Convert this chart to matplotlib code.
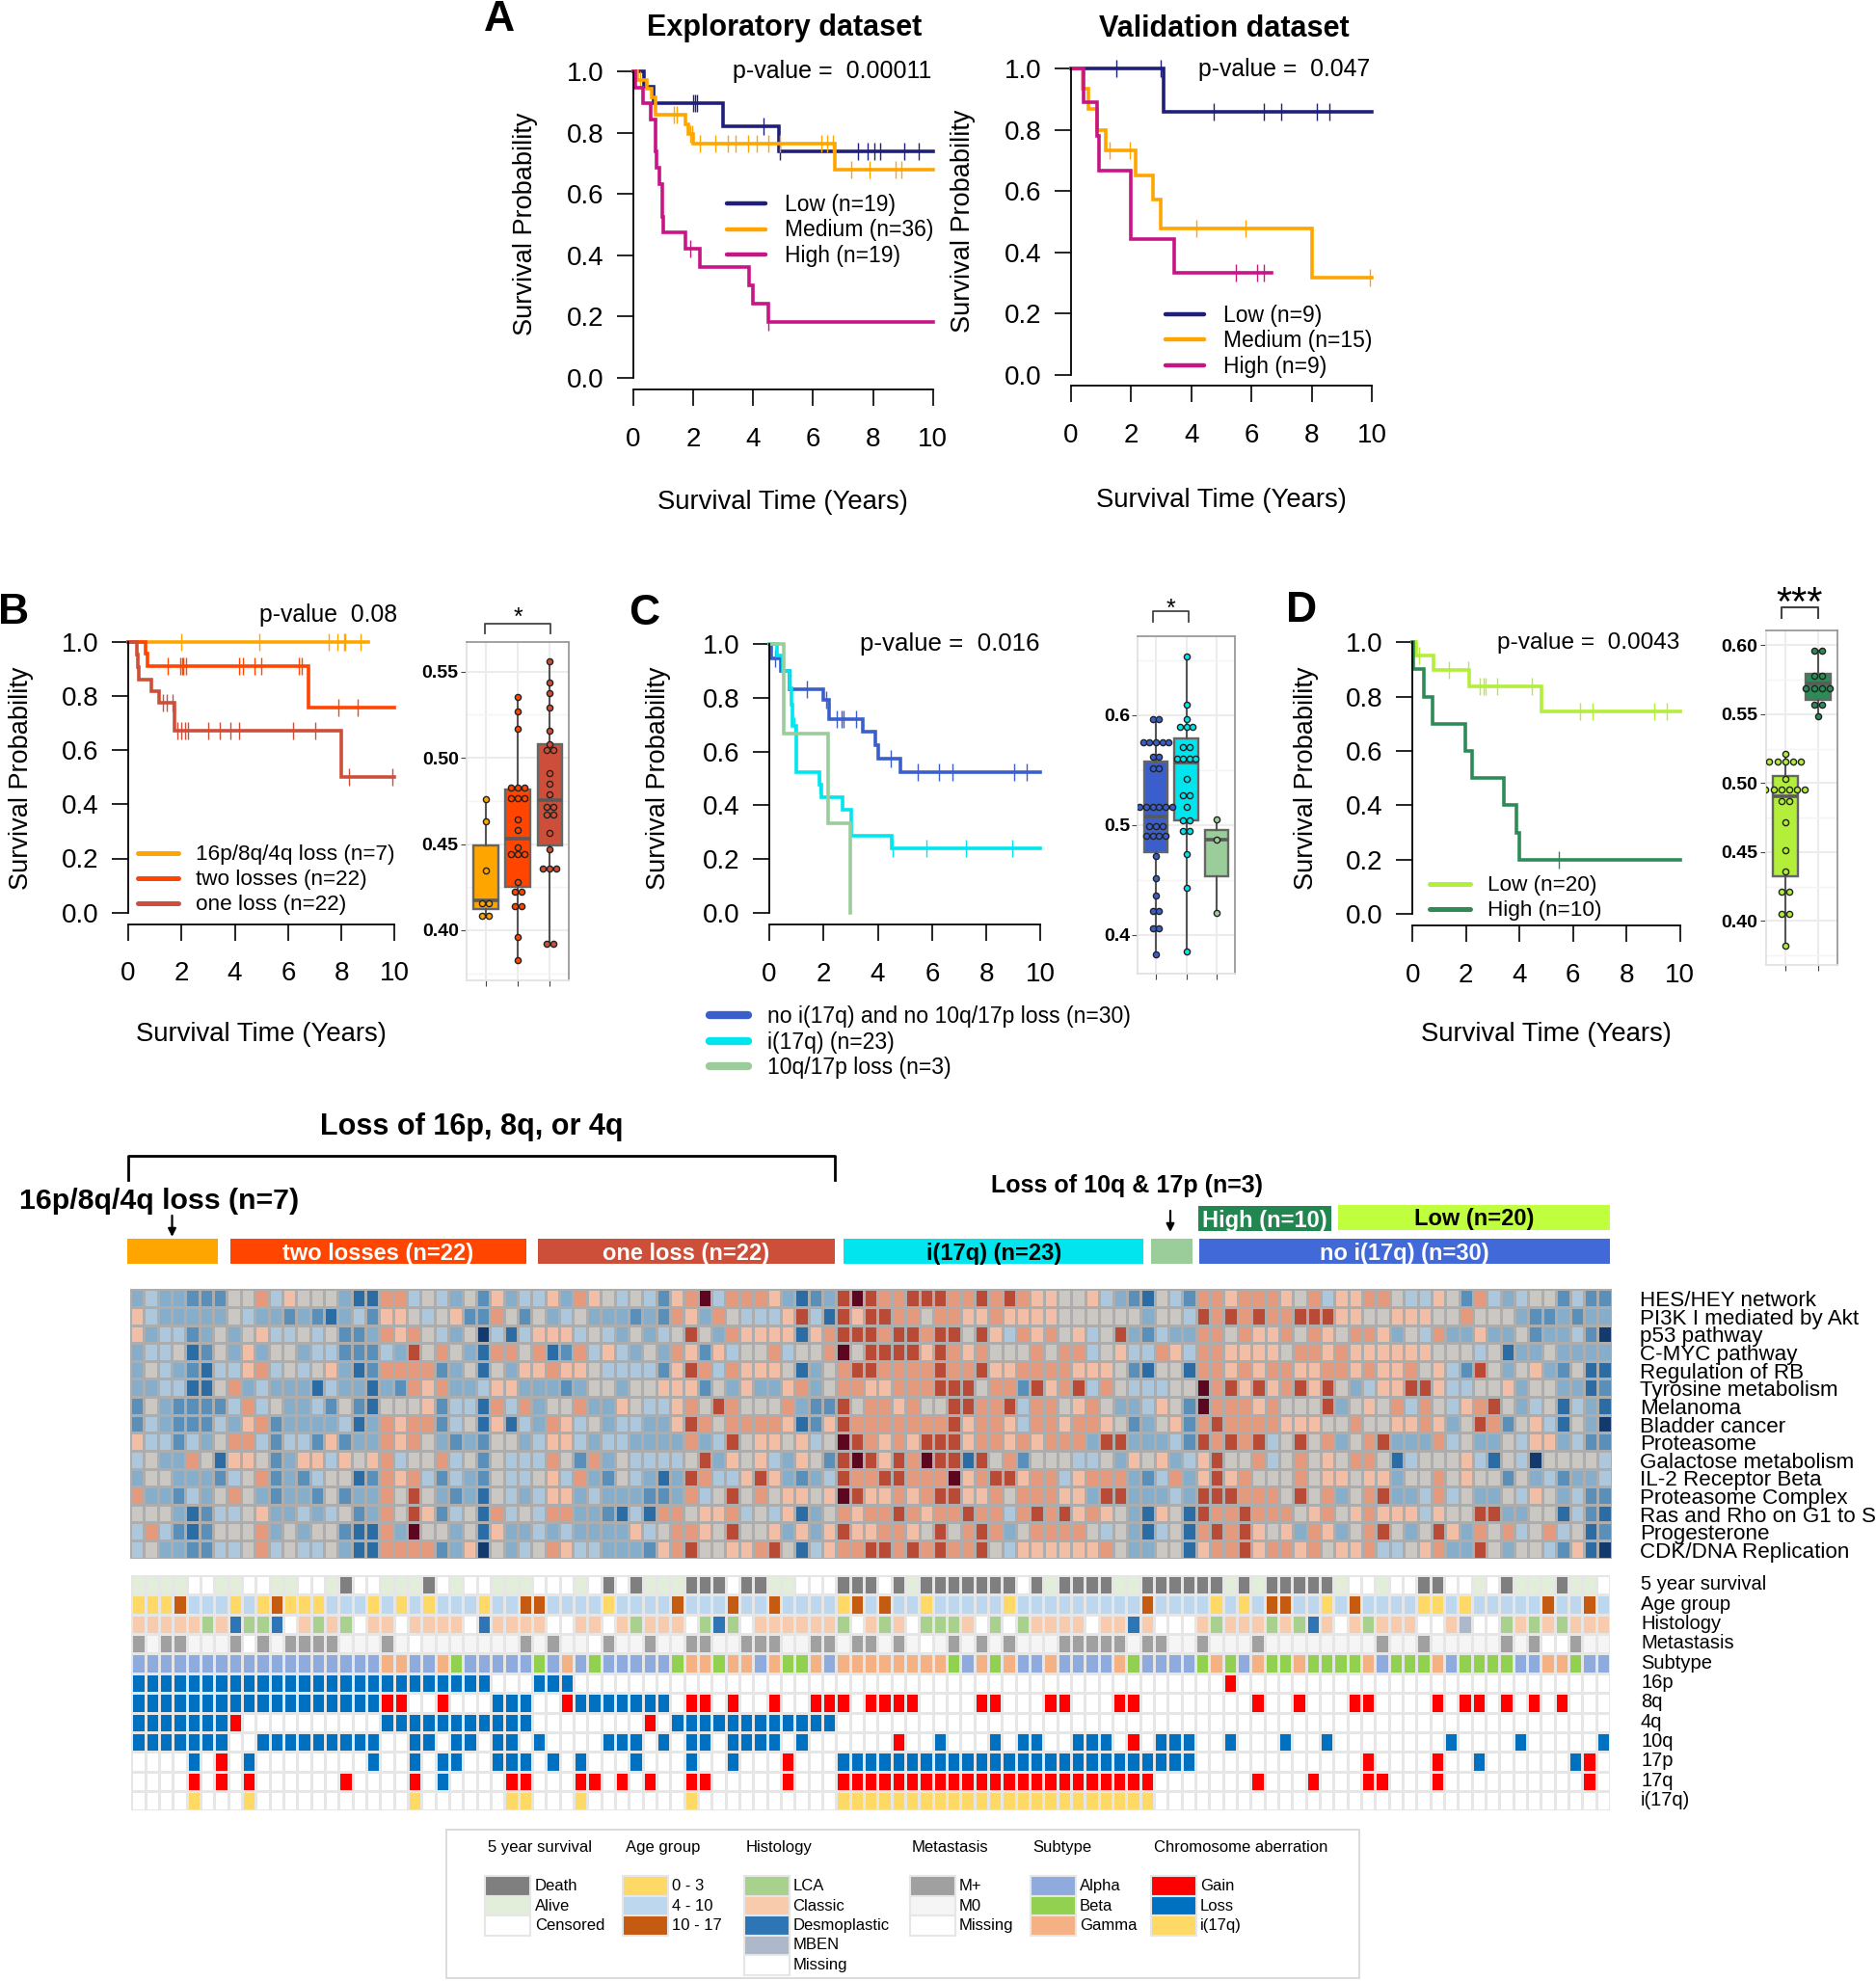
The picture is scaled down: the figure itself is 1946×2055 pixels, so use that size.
import numpy as np
import matplotlib
matplotlib.use("Agg")
import matplotlib.pyplot as plt
from matplotlib.colors import ListedColormap
from matplotlib.patches import Rectangle

plt.rcParams['font.family'] = ['Liberation Sans', 'DejaVu Sans']

W, H = 1946, 2055

# Survival curves: step times, survival after each step, censor marks
ex_low_t = [0, 0.37, 0.67, 3.0, 4.85]
ex_low_s = [1, 0.95, 0.895, 0.82, 0.74]
ex_low_c = [2.0, 2.05, 2.13, 4.35, 4.9, 7.5, 7.83, 8.05, 8.25, 9.04, 9.53]
ex_med_t = [0, 0.12, 0.47, 0.61, 0.73, 1.75, 1.85, 2.0, 6.73]
ex_med_s = [1, 0.972, 0.943, 0.915, 0.86, 0.828, 0.797, 0.763, 0.679]
ex_med_c = [0.24, 1.36, 1.46, 1.9, 1.97, 2.24, 2.74, 3.17, 3.43, 3.82, 4.11, 4.5, 4.9, 6.28, 6.48, 6.67, 7.26, 7.87, 8.74, 8.94]
ex_high_t = [0, 0.08, 0.33, 0.57, 0.75, 0.79, 0.87, 0.96, 1.0, 1.75, 2.22, 3.88, 3.98, 4.5]
ex_high_s = [1, 0.948, 0.895, 0.843, 0.738, 0.684, 0.631, 0.525, 0.474, 0.421, 0.362, 0.302, 0.242, 0.181]
ex_high_c = [1.89, 4.51]

va_low_t = [0, 3.08]
va_low_s = [1, 0.858]
va_low_c = [1.51, 2.99, 4.75, 6.42, 6.99, 8.17, 8.59]
va_med_t = [0, 0.37, 0.59, 0.88, 1.14, 2.16, 2.71, 2.99, 8.02]
va_med_s = [1, 0.933, 0.867, 0.80, 0.733, 0.652, 0.571, 0.476, 0.317]
va_med_c = [1.28, 1.96, 4.17, 5.8, 9.92]
va_high_t = [0, 0.43, 0.86, 0.92, 2.0, 3.42]
va_high_s = [1, 0.889, 0.78, 0.667, 0.444, 0.333]
va_high_c = [5.48, 6.17, 6.4]
va_high_end = 6.68

b_triple_t = [0]
b_triple_s = [1]
b_triple_c = [2.0, 4.92, 7.52, 7.86, 8.09, 8.15, 8.73]
b_triple_end = 9.0
b_two_t = [0, 0.65, 0.74, 6.75]
b_two_s = [1, 0.955, 0.91, 0.757]
b_two_c = [1.48, 1.96, 2.02, 2.08, 2.16, 4.17, 4.31, 4.74, 5.01, 6.41, 6.51, 7.89, 8.6]
b_one_t = [0, 0.31, 0.35, 0.4, 0.87, 1.17, 1.73, 8.0]
b_one_s = [1, 0.953, 0.907, 0.861, 0.818, 0.773, 0.67, 0.50]
b_one_c = [1.31, 1.46, 1.65, 1.86, 1.98, 2.13, 2.25, 3.01, 3.43, 3.84, 4.15, 6.19, 7.03, 8.27, 9.93]

c_no_t = [0, 0.06, 0.43, 0.76, 2.0, 2.19, 3.43, 3.92, 4.0, 4.82]
c_no_s = [1, 0.947, 0.898, 0.83, 0.793, 0.719, 0.672, 0.623, 0.573, 0.523]
c_no_c = [0.21, 0.5, 1.38, 2.08, 2.49, 2.65, 2.72, 3.2, 4.48, 5.48, 6.24, 6.74, 9.04, 9.49]
c_i17_t = [0, 0.3, 0.51, 0.73, 0.81, 0.85, 1.0, 1.86, 1.93, 2.69, 3.02, 4.5]
c_i17_s = [1, 0.956, 0.898, 0.836, 0.774, 0.694, 0.522, 0.478, 0.429, 0.383, 0.287, 0.24]
c_i17_c = [0.92, 1.86, 4.55, 5.79, 7.25, 8.94]
c_loss_t = [0, 0.55, 2.16, 3.0]
c_loss_s = [1, 0.667, 0.333, 0.0]
c_loss_end = 3.0

d_low_t = [0, 0.12, 0.77, 2.12, 4.83]
d_low_s = [1, 0.952, 0.898, 0.837, 0.745]
d_low_c = [0.23, 1.37, 2.07, 2.5, 2.67, 2.74, 3.17, 4.46, 6.25, 6.72, 9.03, 9.5]
d_high_t = [0, 0.04, 0.41, 0.73, 1.97, 2.24, 3.41, 3.9, 4.0]
d_high_s = [1, 0.9, 0.8, 0.7, 0.6, 0.5, 0.4, 0.3, 0.2]
d_high_c = [5.47]

# Box plot scores, repeated values sit side by side
b_box1 = [.476, .463, .4345, .4155, .4155, .4086, .4086]
b_box2 = [.5356, .527, .517, .483, .483, .483, .4765, .4765, .4765, .4645, .458, .448, .444, .444, .444,
          .428, .4225, .4225, .4137, .4137, .396, .3827]
b_box3 = [.5558, .5437, .5373, .5293, .516, .508, .5043, .5043, .4912, .485, .479, .4713, .4713, .467, .467,
          .4567, .4468, .436, .436, .436, .392, .392]
c_box1 = [.596, .596] + [.5755] * 5 + [.562, .562, .552, .552] + [.517] * 6 + [.499] * 3 + [.49] * 4 + \
         [.4716, .452, .4357, .4218, .4218, .4057, .4057, .382]
c_box2 = [.6535, .61, .5967, .589, .589, .589, .571, .571, .5607, .5607, .5607, .5607, .542, .527, .527,
          .5166, .504, .504, .4946, .4946, .4737, .443, .385]
c_box3 = [.5048, .4867, .4205]
d_box1 = [.5214] + [.5156] * 5 + [.5028] + [.495] * 6 + [.4872, .4872, .4713, .4515, .4357, .4212, .4212,
                                                          .4054, .4054, .382]
d_box2 = [.596, .596, .578, .578, .5688, .5688, .5688, .5688, .557, .557, .5483]

# q1, median, q3 of each box
b_quart = [(.4123, .4175, .449), (.425, .4532, .4815), (.4493, .4755, .5078)]
c_quart = [(.475, .5082, .5577), (.5045, .5568, .579), (.4538, .4867, .4958)]
d_quart = [(.4324, .4907, .5054), (.5604, .572, .579)]

row_names = ['HES/HEY network', 'PI3K I mediated by Akt', 'p53 pathway', 'C-MYC pathway', 'Regulation of RB',
             'Tyrosine metabolism', 'Melanoma', 'Bladder cancer', 'Proteasome', 'Galactose metabolism',
             'IL-2 Receptor Beta', 'Proteasome Complex', 'Ras and Rho on G1 to S', 'Progesterone',
             'CDK/DNA Replication']

# heatmap, one digit per cell from 0 (deep blue) to 9 (deep red)
heat_rows = [
    "3433222 5574 6555 3117 7454 3526 3446 3765 4542 6794 7776 3123 89",
    "6433 3335 4332 3213 4266 5456 2275 2534 5333 2327 6375 4446 8418 6",
    "6344 2353 5644 5452 2376 7543 5041 4666 4543 5345 8537 6666 1678 8",
    "3445 1253 6355 3442 2243 8575 3177 5712 7464 3537 6264 5574 5579 5",
    "3543 2144 6745 4563 1277 7723 5153 6676 6544 4426 8747 6665 1357 8",
    "3344 1157 3433 3143 3132 7673 3466 3332 3553 5566 6253 6336 7357 7",
    "2532 2224 7453 3425 2155 5624 4174 7355 7336 5446 7587 5557 3228 5",
    "2432 2243 6723 3334 1376 7724 5161 4376 4534 4336 8757 7776 1268 7",
    "6442 4357 7424 4262 3376 7532 3255 3466 4344 3333 7348 5665 6459 8",
    "4533 7516 6523 6646 5674 5574 5254 4475 2735 4444 5836 5643 6528 9",
    "3553 3324 5723 2455 1276 7424 3254 4564 7325 4313 8744 6863 2348 7",
    "7332 4357 5323 3252 3375 8532 3154 3466 3433 3223 7458 5756 6569 8",
    "5553 1244 5633 4345 2375 8624 5174 5477 3321 4177 5667 4546 1357 6",
    "4742 1255 5735 3552 1173 9553 5163 3434 3333 6457 7658 5563 6368 6",
    "4533 2244 5745 4453 1177 7723 6053 4576 4433 3267 8556 6785 1467 7",
]
heat_rows_right = [
    "8778 8877 8787 6655 6432 1542 7767 7765 7466 7754 4652 7434 5524 22",
    "8877 5776 6766 6655 5555 3554 8787 8778 8866 5566 6557 5553 2232 33",
    "8788 7885 8647 6756 4583 2433 7757 6675 7657 7635 4733 6335 2334 20",
    "8888 6876 7555 7577 4564 4764 7766 6657 7676 6666 6555 4513 3533 33",
    "8777 7877 8667 7776 6652 1551 7767 6776 6776 7667 5642 8535 6325 11",
    "6677 7888 5772 8678 4754 4455 9786 8678 6853 4668 8644 5563 5533 12",
    "7767 5588 7784 7756 7533 4652 9777 6755 5835 6574 7546 7853 4514 31",
    "7777 7786 7764 7767 7652 3562 7877 7766 6557 5566 7635 8725 6415 30",
    "7676 8886 7767 6777 3883 3342 8787 8458 5735 7833 3745 3354 6634 22",
    "8687 9881 8572 5554 4536 5634 6855 7457 5657 7514 5556 4154 0555 54",
    "7887 7796 7886 7746 7773 2473 6867 5557 5665 6635 5756 5525 3423 34",
    "6676 7886 6757 7766 3883 3343 8887 7758 5735 7833 4745 3354 6534 22",
    "7787 6778 7747 8786 7653 1651 8778 7775 6756 7666 4655 8833 5514 21",
    "6776 5857 8735 7777 5453 1451 7878 6563 7635 7853 5863 7574 5745 12",
    "8878 7877 8546 6666 6753 3551 6778 6776 7566 7445 6733 8535 5426 10",
]

# annotation tracks, one letter per sample
surv_track = "AAAA CC AA CC AA CC A D CC AAA D C A CC AAA CCC A C D C D AAA DDD C DD AA CCC DDD " \
             "C D A DDDDDDD C D A DDDD AA DDDDDD A D A DDDDD A CC A CC DD CC A C D AAA D AA C"
age_track = "YYY O BBB Y B Y O YYY BBB Y B Y B Y BBB Y BB OO BBBB Y BBBB O BBB O BB O BBBB Y O B O " \
            "BB Y BBBBB Y BBBBBBBBB O BBBB Y B Y B OO BB Y B O BBBB YY B Y BBBBB O BB O B"
hist_track = "KKKKK L K D LL D M K L K L M KK M KKKK M D KKKK MM KK M K L KKK M L D L M KKKKKK L M K L " \
             "K M LLL K M L M L KKKK M KK D K MMM K L KKK L K L D K M K L KKK MM K N MM L K L K L KKK"
meta_track = "P Z PP ZZZ P M P Z PPPP ZZZ P Z M ZZZZZZZ P Z P ZZ M P ZZ P ZZ PP ZZ PPP ZZ PP Z PP Z " \
             "P Z M Z P Z P Z P ZZZ PPPPP Z PP ZZ P ZZZ P ZZZZZZZZ P ZZ P ZZZZZ P Z P MM P ZZ"
sub_track = "AAAAAAAAAAAAAAAAAA GG AA G B AAAAA B A G A B AAAAA B GG B GG A G BB G A GGGG " \
            "GGGG B A G B G AA G AAAA G B AAAA B G B A G BB G BBBB G A BBB G A BBBB AA GG B AA"

# chromosome tracks: sample numbers or inclusive (first, last) runs
chr_names = ['16p', '8q', '4q', '10q', '17p', '17q', 'i(17q)']
chr_loss = [
    [(0, 25), (29, 31)],
    [(0, 17), (26, 28), (32, 38)],
    [(0, 6), (18, 28), (39, 50)],
    [(0, 6), (9, 17), (20, 21), (23, 24), (26, 27), 29, (34, 36), 38, (40, 41), (43, 46), 48, 58, 62, 64, 65,
     68, 69, 70, 74, 75, 76, 79, 83, 86, 95, 100, 106],
    [4, 8, 17, 20, 22, 23, 26, 27, 28, 30, 32, 36, 40, 43, (51, 76), 97, 104],
    [22],
    [],
]
chr_gain = [
    [79],
    [18, 19, 22, 31, 40, 41, 43, 46, 49, 50, 51, 53, 54, 55, 56, 61, 62, 66, 67, 71, 72, 81, 84, 88, 89, 94,
     96, 97, 99, 101, 103],
    [7, 37],
    [55, 72],
    [6, 47, 89, 94, 105],
    [4, 6, 8, 15, 20, 27, 28, 32, 33, 35, 37, 40, 41, 47, (51, 73), 81, 85, 89, 90, 94, 105],
    [],
]
i17q_samples = [4, 8, 20, 27, 28, 32, 40, (51, 73)]

heat_colors = ['#123a6c', '#2c6ca5', '#5a8fba', '#86aecb', '#adc8dc', '#cbc7c3', '#f3bea6', '#e59a7e', '#b84a36',
               '#5c0620']
track_colors = {'death': '#7f7f7f', 'alive': '#e2edda', 'none': '#ffffff', 'young': '#ffd966', 'mid': '#bdd7ee',
                'old': '#c55a11', 'lca': '#a9d18e', 'classic': '#f8cbad', 'desmo': '#2e75b6', 'mben': '#adb9ca',
                'mplus': '#a0a0a0', 'm0': '#f5f5f5', 'alpha': '#8faadc', 'beta': '#92d050', 'gamma': '#f4b183',
                'gain': '#ff0000', 'loss': '#0070c0'}
navy, orange, magenta = '#1f1f7a', '#ffa500', '#c71585'


fig = plt.figure(figsize=(W / 100, H / 100), dpi=100)


def px_axes(x0, y0, x1, y1, **kw):
    # axes placed from pixel corners, y counted from the top
    return fig.add_axes([x0 / W, 1 - y1 / H, (x1 - x0) / W, (y1 - y0) / H], **kw)


over = px_axes(0, 0, W, H)
over.set_xlim(0, W)
over.set_ylim(H, 0)
over.axis('off')


def label(x, y, s, size, weight='normal', ha='left', va='center', color='black', rot=0, shift=2.5):
    if rot:
        x += shift
    else:
        y += shift
    over.text(x, y, s, fontsize=size, fontweight=weight, ha=ha, va=va, color=color, rotation=rot)


def km_panel(box, curves, lw=2.6, tick_ms=13):
    ax = px_axes(*box)
    ax.patch.set_alpha(0)
    for t, s, c, col, *rest in curves:
        end = rest[0] if rest else 10
        ax.step(t + [end], s + [s[-1]], where='post', color=col, lw=lw, solid_joinstyle='miter', clip_on=False)
        if c:
            idx = np.searchsorted(t, c, side='right') - 1
            ax.plot(c, np.array(s)[idx], ls='none', marker='|', ms=tick_ms, mew=1, color=col, clip_on=False)
    ax.set_xlim(0, 10)
    ax.set_ylim(0, 1)
    ax.spines[['top', 'right']].set_visible(False)
    ax.spines['bottom'].set_position(('outward', 8.5))
    ax.spines['bottom'].set_linewidth(1.3)
    ax.spines['left'].set_linewidth(1.3)
    ax.set_xticks(range(0, 11, 2))
    ax.set_yticks([0, .2, .4, .6, .8, 1.0], ['0.0', '0.2', '0.4', '0.6', '0.8', '1.0'])
    ax.tick_params(axis='x', length=12, width=1.2, labelsize=20, pad=16)
    ax.tick_params(axis='y', length=12, width=1.2, labelsize=20, pad=10)
    return ax


def box_panel(box, groups, quarts, colors, ylim, yticks, minor, ticklabs, dx):
    ax = px_axes(*box)
    n = len(groups)
    stats = [dict(q1=q[0], med=q[1], q3=q[2], whislo=min(g), whishi=max(g), fliers=[]) for g, q in zip(groups, quarts)]
    art = ax.bxp(stats, positions=range(1, n + 1), widths=0.77, patch_artist=True, showfliers=False, showcaps=False,
                 boxprops=dict(edgecolor='#666666', linewidth=1.7), medianprops=dict(color='#5a5a5a', linewidth=2.6),
                 whiskerprops=dict(color='#555555', linewidth=1.5), zorder=2)
    for patch, col in zip(art['boxes'], colors):
        patch.set_facecolor(col)
    for i, g in enumerate(groups):
        for v in sorted(set(g)):
            k = g.count(v)
            xs = i + 1 + (np.arange(k) - (k - 1) / 2) * dx
            ax.scatter(xs, [v] * k, s=20, color=colors[i], edgecolor='#222222', linewidth=1, zorder=3)
    ax.set_xlim(0.41, n + 0.59)
    ax.set_ylim(*ylim)
    ax.set_xticks(range(1, n + 1), [''] * n)
    ax.set_yticks(yticks, ticklabs)
    ax.set_yticks(minor, minor=True)
    ax.set_axisbelow(True)
    ax.grid(True, which='major', color='#ececec', lw=1.5)
    ax.grid(True, which='minor', axis='y', color='#f4f4f4', lw=1)
    ax.tick_params(axis='x', length=4, color='#444444', pad=0)
    ax.tick_params(axis='y', which='major', length=4, color='#444444', labelsize=14, pad=2)
    ax.tick_params(axis='y', which='minor', length=0)
    for lab in ax.get_yticklabels():
        lab.set_fontweight('bold')
    ax.spines['top'].set_color('#9a9a9a')
    ax.spines['right'].set_color('#9a9a9a')
    ax.spines['left'].set_color('#e2e2e2')
    ax.spines['bottom'].set_color('#e2e2e2')
    for side in ax.spines.values():
        side.set_linewidth(1.3)
    return ax


def bracket(x0, x1, top, bottom, color='#444444', lw=1.3):
    over.plot([x0, x0, x1, x1], [bottom, top, top, bottom], color=color, lw=lw)


def legend_rows(x0, x1, tx, rows, size, lw):
    for y, col, s in rows:
        over.plot([x0, x1], [y, y], color=col, lw=lw, solid_capstyle='round')
        label(tx, y, s, size, shift=1.5)


def expand(items):
    out = []
    for it in items:
        if isinstance(it, tuple):
            out += list(range(it[0], it[1] + 1))
        else:
            out.append(it)
    return out


# Panel A
km_panel((656.8, 74, 967.8, 392), [(ex_low_t, ex_low_s, ex_low_c, navy), (ex_med_t, ex_med_s, ex_med_c, orange),
                                   (ex_high_t, ex_high_s, ex_high_c, magenta)])
km_panel((1111, 71, 1423, 388.6), [(va_low_t, va_low_s, va_low_c, navy), (va_med_t, va_med_s, va_med_c, orange),
                                   (va_high_t, va_high_s, va_high_c, magenta, va_high_end)])
label(518, 18, 'A', 32, 'bold', ha='center')
label(813.5, 27, 'Exploratory dataset', 22, 'bold', ha='center')
label(1270, 27, 'Validation dataset', 22, 'bold', ha='center')
label(760, 71, 'p-value =  0.00011', 18)
label(1243, 69, 'p-value =  0.047', 17.8)
label(543, 232, 'Survival Probability', 19.5, ha='center', rot=90)
label(997, 229, 'Survival Probability', 19.5, ha='center', rot=90)
label(812, 519, 'Survival Time (Years)', 19.8, ha='center')
label(1267, 516, 'Survival Time (Years)', 19.8, ha='center')
legend_rows(754, 794, 813.5, [(211, navy, 'Low (n=19)'), (237.5, orange, 'Medium (n=36)'), (264, magenta, 'High (n=19)')],
            16.5, 3.2)
legend_rows(1209, 1249, 1269, [(326, navy, 'Low (n=9)'), (352, orange, 'Medium (n=15)'), (378.6, magenta, 'High (n=9)')],
            16.5, 3.2)

# Panel B
km_panel((133, 665.7, 409.4, 946.7), [(b_triple_t, b_triple_s, b_triple_c, orange, b_triple_end), (b_two_t, b_two_s, b_two_c, '#ff4500'),
                                      (b_one_t, b_one_s, b_one_c, '#cd4f39')])
label(14, 633, 'B', 32, 'bold', ha='center')
label(269, 636, 'p-value  0.08', 17.8)
label(20, 807, 'Survival Probability', 19.5, ha='center', rot=90)
label(271, 1071, 'Survival Time (Years)', 19.8, ha='center')
legend_rows(143, 184.5, 203, [(885.3, orange, '16p/8q/4q loss (n=7)'), (911.3, '#ff4500', 'two losses (n=22)'),
                              (937.3, '#cd4f39', 'one loss (n=22)')], 16.2, 3.6)
box_panel((484, 665.7, 590, 1016.7), [b_box1, b_box2, b_box3], b_quart, [orange, '#ff4500', '#cd4f39'], (.371, .5674),
          [.40, .45, .50, .55], [.375, .425, .475, .525], ['0.40', '0.45', '0.50', '0.55'], 0.21)
bracket(503, 570.6, 646.7, 657)
label(537, 638, '*', 18, ha='center')

# Panel C
km_panel((798, 667.8, 1079.4, 947.1), [(c_no_t, c_no_s, c_no_c, '#3a5fcd'), (c_i17_t, c_i17_s, c_i17_c, '#00e5ee'),
                                       (c_loss_t, c_loss_s, [], '#9bcd9b', c_loss_end)])
label(668.6, 634, 'C', 32, 'bold', ha='center')
label(892.5, 665, 'p-value =  0.016', 18.6)
label(680, 807, 'Survival Probability', 19.5, ha='center', rot=90)
legend_rows(736, 776, 795.7, [(1053, '#3a5fcd', 'no i(17q) and no 10q/17p loss (n=30)'), (1079.7, '#00e5ee', 'i(17q) (n=23)'),
                              (1106, '#9bcd9b', '10q/17p loss (n=3)')], 16.6, 6)
box_panel((1180.4, 660.3, 1280.6, 1010.5), [c_box1, c_box2, c_box3], c_quart, ['#3a5fcd', '#00e5ee', '#9bcd9b'],
          (.3644, .6716), [.4, .5, .6], [.45, .55, .65], ['0.4', '0.5', '0.6'], 0.21)
bracket(1195.5, 1233, 634, 645)
label(1214, 629, '*', 18, ha='center')

# Panel D
km_panel((1465.3, 666.3, 1742.7, 948.3), [(d_low_t, d_low_s, d_low_c, '#b3ee3a'), (d_high_t, d_high_s, d_high_c, '#2e8b57')])
label(1350, 631, 'D', 32, 'bold', ha='center')
label(1553, 664, 'p-value =  0.0043', 17.6)
label(1353, 807, 'Survival Probability', 19.5, ha='center', rot=90)
label(1604, 1071, 'Survival Time (Years)', 19.8, ha='center')
legend_rows(1483, 1525, 1542.7, [(917, '#b3ee3a', 'Low (n=20)'), (943, '#2e8b57', 'High (n=10)')], 16.2, 3.6)
box_panel((1831.7, 654, 1905.7, 1001), [d_box1, d_box2], d_quart, ['#b3ee3a', '#2e8b57'], (.368, .6107),
          [.40, .45, .50, .55, .60], [.375, .425, .475, .525, .575], ['0.40', '0.45', '0.50', '0.55', '0.60'], 0.24)
bracket(1848, 1886, 630, 640.7, lw=1.5)
label(1867, 624, '***', 30, ha='center')

# Group bars above the heatmap
label(489.7, 1166, 'Loss of 16p, 8q, or 4q', 22, 'bold', ha='center')
bracket(132.6, 866, 1199, 1224, color='black', lw=2)
label(20, 1243, '16p/8q/4q loss (n=7)', 21.8, 'bold')
label(1168.7, 1228, 'Loss of 10q & 17p (n=3)', 18, 'bold', ha='center')
group_bars = [(131.5, 226, 1284.5, orange, '', 'white'), (238.8, 546, 1284.5, '#ff4500', 'two losses (n=22)', 'white'),
              (558, 865.7, 1284.5, '#cd4f39', 'one loss (n=22)', 'white'), (875.2, 1186.2, 1284.5, '#00e5ee', 'i(17q) (n=23)', 'black'),
              (1193.8, 1236.7, 1284.5, '#9bcd9b', '', 'white'), (1243.7, 1670, 1284.5, '#4169d8', 'no i(17q) (n=30)', 'white'),
              (1243, 1380.8, 1251, '#21864f', 'High (n=10)', 'white'), (1387.7, 1670, 1249.5, '#c0ff3e', 'Low (n=20)', 'black')]
for x0, x1, y0, col, s, tc in group_bars:
    over.add_patch(Rectangle((x0, y0), x1 - x0, 26.2, color=col, lw=0))
    if s:
        label((x0 + x1) / 2, y0 + 13, s, 17, 'bold', ha='center', color=tc)
for ax_x, y0, y1 in [(178.5, 1261, 1283), (1214, 1256, 1278)]:
    over.annotate('', xy=(ax_x, y1), xytext=(ax_x, y0),
                  arrowprops=dict(arrowstyle='-|>', color='black', lw=1.6, shrinkA=0, shrinkB=0, mutation_scale=12))

# Heatmap
heat = np.array([[int(ch) for ch in (a + b).replace(' ', '')] for a, b in zip(heat_rows, heat_rows_right)])
ax_heat = px_axes(134.9, 1337.3, 1671.6, 1616.7)
ax_heat.pcolormesh(heat, cmap=ListedColormap(heat_colors), vmin=-0.5, vmax=9.5, edgecolors='#adadad', linewidth=1)
ax_heat.set_ylim(heat.shape[0], 0)
ax_heat.axis('off')
for i, name in enumerate(row_names):
    label(1701, 1337.3 + 18.63 * (i + 0.5), name, 16.1, shift=3)

# Annotation tracks
palette = list(track_colors.values())
keys = list(track_colors.keys())


def track_row(track, mapping):
    chars = track.replace(' ', '')
    return [keys.index(mapping[ch]) for ch in chars]


tracks = [
    track_row(surv_track, {'D': 'death', 'A': 'alive', 'C': 'none'}),
    track_row(age_track, {'Y': 'young', 'B': 'mid', 'O': 'old'}),
    track_row(hist_track, {'L': 'lca', 'K': 'classic', 'D': 'desmo', 'N': 'mben', 'M': 'none'}),
    track_row(meta_track, {'P': 'mplus', 'Z': 'm0', 'M': 'none'}),
    track_row(sub_track, {'A': 'alpha', 'B': 'beta', 'G': 'gamma'}),
]
n_samples = len(tracks[0])
for loss, gain in zip(chr_loss, chr_gain):
    row = np.full(n_samples, keys.index('none'))
    row[expand(loss)] = keys.index('loss')
    row[expand(gain)] = keys.index('gain')
    tracks.append(list(row))
for s in expand(i17q_samples):
    tracks[-1][s] = keys.index('young')

ax_track = px_axes(136.3, 1634, 1670, 1878.3)
ax_track.pcolormesh(np.array(tracks), cmap=ListedColormap(palette), vmin=-0.5, vmax=len(palette) - 0.5,
                    edgecolors='#e6e6e6', linewidth=1)
ax_track.set_ylim(len(tracks), 0)
ax_track.axis('off')
track_names = ['5 year survival', 'Age group', 'Histology', 'Metastasis', 'Subtype'] + chr_names
for i, name in enumerate(track_names):
    label(1702, 1634 + 20.36 * (i + 0.5), name, 14.5, shift=-0.5)

# Legend box at the bottom
over.add_patch(Rectangle((462.5, 1898), 947.5, 154, fc='white', ec='#d9d9d9', lw=1.3))
legend_groups = [
    ('5 year survival', 506, 503, 555, [('death', 'Death'), ('alive', 'Alive'), ('none', 'Censored')]),
    ('Age group', 649, 645.6, 697, [('young', '0 - 3'), ('mid', '4 - 10'), ('old', '10 - 17')]),
    ('Histology', 774, 772, 822.5, [('lca', 'LCA'), ('classic', 'Classic'), ('desmo', 'Desmoplastic'), ('mben', 'MBEN'), ('none', 'Missing')]),
    ('Metastasis', 946, 944, 995, [('mplus', 'M+'), ('m0', 'M0'), ('none', 'Missing')]),
    ('Subtype', 1071, 1069, 1120, [('alpha', 'Alpha'), ('beta', 'Beta'), ('gamma', 'Gamma')]),
    ('Chromosome aberration', 1197, 1193.8, 1245, [('gain', 'Gain'), ('loss', 'Loss'), ('young', 'i(17q)')]),
]
for title, tx, sx, lx, entries in legend_groups:
    label(tx, 1916, title, 12, shift=0.5)
    for j, (key, s) in enumerate(entries):
        y = 1946 + 20.5 * j
        over.add_patch(Rectangle((sx, y), 47, 20.5, fc=track_colors[key], ec='#e6e6e6', lw=1.5))
        label(lx, y + 10.5, s, 12, shift=0)

fig.savefig('out.png', dpi=100)
